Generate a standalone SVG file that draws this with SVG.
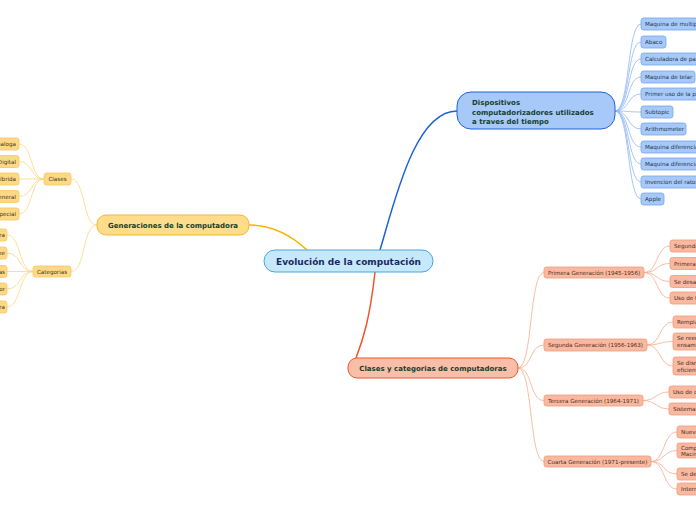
<svg xmlns="http://www.w3.org/2000/svg" width="696" height="520" viewBox="0 0 696 520">
<style>
text{font-family:"DejaVu Sans","Verdana",sans-serif}
.c{fill:none}
.cb{stroke:#8fb8f2;stroke-width:0.8}
.cy{stroke:#fdd67e;stroke-width:0.8}
.cs{stroke:#f9ab8e;stroke-width:0.8}
.bb{fill:#a6c9f8;stroke:#74a4f0;stroke-width:0.8}
.by{fill:#fdd987;stroke:#f8c65a;stroke-width:0.8}
.bs{fill:#f8b9a0;stroke:#f39a7a;stroke-width:0.8}
.tb{font-size:5.6px;fill:#25334d}
.ty{font-size:5.6px;fill:#3d3418}
.ts{font-size:5.6px;fill:#4a2c22}
.main{font-size:7px;font-weight:bold;fill:#17402c}
</style>
<rect width="696" height="520" fill="#ffffff"/>
<g id="connectors">
<path class="c" d="M307,250 C290,234 272,225 249,225" stroke="#f7b500" stroke-width="1.5"/>
<path class="c" d="M380,250 C395,200 415,111 457,111" stroke="#1c62d6" stroke-width="1.5"/>
<path class="c" d="M375,272 C370,318 363,340 356,358" stroke="#f0542a" stroke-width="1.5"/>
<path class="c cb" d="M615,111 C630,111 627,24 641,24"/>
<path class="c cb" d="M615,111 C630,111 627,42 641,42"/>
<path class="c cb" d="M615,111 C630,111 627,59 641,59"/>
<path class="c cb" d="M615,111 C630,111 627,77 641,77"/>
<path class="c cb" d="M615,111 C630,111 627,94 641,94"/>
<path class="c cb" d="M615,111 C630,111 627,112 641,112"/>
<path class="c cb" d="M615,111 C630,111 627,129 641,129"/>
<path class="c cb" d="M615,111 C630,111 627,147 641,147"/>
<path class="c cb" d="M615,111 C630,111 627,164 641,164"/>
<path class="c cb" d="M615,111 C630,111 627,182 641,182"/>
<path class="c cb" d="M615,111 C630,111 627,199 641,199"/>
<path class="c cy" d="M97,225 C82,225 86,179 71,179"/>
<path class="c cy" d="M97,225 C82,225 86,271.5 71,271.5"/>
<path class="c cy" d="M44,179 C30,179 33,144 19,144"/>
<path class="c cy" d="M44,179 C30,179 33,161.5 19,161.5"/>
<path class="c cy" d="M44,179 L19,179"/>
<path class="c cy" d="M44,179 C30,179 33,196.5 19,196.5"/>
<path class="c cy" d="M44,179 C30,179 33,214 19,214"/>
<path class="c cy" d="M33,271.5 C19,271.5 21,235 7,235"/>
<path class="c cy" d="M33,271.5 C19,271.5 21,253 7,253"/>
<path class="c cy" d="M33,271.5 L7,271.5"/>
<path class="c cy" d="M33,271.5 C19,271.5 21,289 7,289"/>
<path class="c cy" d="M33,271.5 C19,271.5 21,307 7,307"/>
<path class="c cs" d="M518,368 C533,368 529,272.5 544,272.5"/>
<path class="c cs" d="M518,368 C533,368 529,345 544,345"/>
<path class="c cs" d="M518,368 C533,368 529,400.5 544,400.5"/>
<path class="c cs" d="M518,368 C533,368 529,461.5 544,461.5"/>
<path class="c cs" d="M644,272.5 C658,272.5 656,246 670,246"/>
<path class="c cs" d="M644,272.5 C658,272.5 656,263.5 670,263.5"/>
<path class="c cs" d="M644,272.5 C658,272.5 656,281.5 670,281.5"/>
<path class="c cs" d="M644,272.5 C658,272.5 656,298 670,298"/>
<path class="c cs" d="M647,345 C661,345 659,322 673,322"/>
<path class="c cs" d="M647,345 C661,345 659,341.5 673,341.5"/>
<path class="c cs" d="M647,345 C661,345 659,366 673,366"/>
<path class="c cs" d="M643,400.5 C656,400.5 656,392 669,392"/>
<path class="c cs" d="M643,400.5 C656,400.5 656,409 669,409"/>
<path class="c cs" d="M651,461.5 C665,461.5 663,432 677,432"/>
<path class="c cs" d="M651,461.5 C665,461.5 663,450.5 677,450.5"/>
<path class="c cs" d="M651,461.5 C665,461.5 663,474 677,474"/>
<path class="c cs" d="M651,461.5 C665,461.5 663,489 677,489"/>
</g>
<g id="root">
<rect x="264" y="250" width="169" height="22" rx="11" fill="#c6e8fb" stroke="#4ea4dc" stroke-width="1"/>
<text x="348.5" y="264.5" text-anchor="middle" font-size="9" font-weight="bold" fill="#1b2a5e">Evolución de la computación</text>
</g>
<g id="generaciones">
<rect x="97" y="215" width="152" height="20" rx="9" fill="#fddc8c" stroke="#f6b72c" stroke-width="1"/>
<text x="173" y="227.5" text-anchor="middle" class="main">Generaciones de la computadora</text>
</g>
<g id="dispositivos">
<rect x="457" y="92" width="158" height="37" rx="14" fill="#a6c9f9" stroke="#1c62d6" stroke-width="1"/>
<text x="472" y="105" class="main">Dispositivos</text>
<text x="472" y="114.5" class="main">computadorizadores utilizados</text>
<text x="472" y="124" class="main">a traves del tiempo</text>
</g>
<g id="clases-categorias">
<rect x="348" y="358" width="170" height="20" rx="9" fill="#f8bea8" stroke="#f0542a" stroke-width="1"/>
<text x="433" y="370.5" text-anchor="middle" class="main">Clases y categorias de computadoras</text>
</g>
<g id="d1"><rect class="bb" x="641" y="18" width="70" height="12" rx="2.5"/><text class="tb" x="645" y="26">Maquina de multiplicar</text></g>
<g id="d2"><rect class="bb" x="641" y="36" width="25" height="12" rx="2.5"/><text class="tb" x="645" y="44">Abaco</text></g>
<g id="d3"><rect class="bb" x="641" y="53" width="70" height="12" rx="2.5"/><text class="tb" x="645" y="61">Calculadora de pascal</text></g>
<g id="d4"><rect class="bb" x="641" y="71" width="54" height="12" rx="2.5"/><text class="tb" x="645" y="79">Maquina de telar</text></g>
<g id="d5"><rect class="bb" x="641" y="88" width="70" height="12" rx="2.5"/><text class="tb" x="645" y="96">Primer uso de la perforadora</text></g>
<g id="d6"><rect class="bb" x="641" y="106" width="32" height="12" rx="2.5"/><text class="tb" x="645" y="114">Subtopic</text></g>
<g id="d7"><rect class="bb" x="641" y="123" width="45" height="12" rx="2.5"/><text class="tb" x="645" y="131">Arithmometer</text></g>
<g id="d8"><rect class="bb" x="641" y="141" width="70" height="12" rx="2.5"/><text class="tb" x="645" y="149">Maquina diferencial</text></g>
<g id="d9"><rect class="bb" x="641" y="158" width="70" height="12" rx="2.5"/><text class="tb" x="645" y="166">Maquina diferencial</text></g>
<g id="d10"><rect class="bb" x="641" y="176" width="70" height="12" rx="2.5"/><text class="tb" x="645" y="184">Invencion del raton</text></g>
<g id="d11"><rect class="bb" x="641" y="193" width="23" height="12" rx="2.5"/><text class="tb" x="645" y="201">Apple</text></g>
<g id="clases"><rect class="by" x="44" y="173" width="27" height="12" rx="2.5"/><text class="ty" x="57.5" y="181" text-anchor="middle">Clases</text></g>
<g id="categorias"><rect class="by" x="33" y="266" width="38" height="11" rx="2.5"/><text class="ty" x="52" y="273.5" text-anchor="middle">Categorias</text></g>
<g id="y1"><rect class="by" x="-30" y="138" width="49" height="12" rx="2.5"/><text class="ty" x="16" y="146" text-anchor="end">Analoga</text></g>
<g id="y2"><rect class="by" x="-30" y="155.5" width="49" height="12" rx="2.5"/><text class="ty" x="16" y="163.5" text-anchor="end">Digital</text></g>
<g id="y3"><rect class="by" x="-30" y="173" width="49" height="12" rx="2.5"/><text class="ty" x="16" y="181" text-anchor="end">Hibrida</text></g>
<g id="y4"><rect class="by" x="-30" y="190.5" width="49" height="12" rx="2.5"/><text class="ty" x="16" y="198.5" text-anchor="end">General</text></g>
<g id="y5"><rect class="by" x="-30" y="208" width="49" height="12" rx="2.5"/><text class="ty" x="16" y="216" text-anchor="end">Especial</text></g>
<g id="y6"><rect class="by" x="-40" y="229" width="47" height="12" rx="2.5"/><text class="ty" x="5" y="237" text-anchor="end">Supercomputadora</text></g>
<g id="y7"><rect class="by" x="-40" y="247" width="47" height="12" rx="2.5"/><text class="ty" x="5" y="255" text-anchor="end">Mainframe</text></g>
<g id="y8"><rect class="by" x="-40" y="265.5" width="47" height="12" rx="2.5"/><text class="ty" x="5" y="273.5" text-anchor="end">Minicomputadoras</text></g>
<g id="y9"><rect class="by" x="-40" y="283" width="47" height="12" rx="2.5"/><text class="ty" x="5" y="291" text-anchor="end">Microcomputador</text></g>
<g id="y10"><rect class="by" x="-40" y="301" width="47" height="12" rx="2.5"/><text class="ty" x="5" y="309" text-anchor="end">Computadora</text></g>
<g id="primera"><rect class="bs" x="544" y="267" width="100" height="11" rx="2.5"/><text class="ts" x="594" y="274.5" text-anchor="middle">Primera Generación (1945-1956)</text></g>
<g id="segunda"><rect class="bs" x="544" y="339" width="103" height="12" rx="2.5"/><text class="ts" x="595.5" y="347" text-anchor="middle">Segunda Generación (1956-1963)</text></g>
<g id="tercera"><rect class="bs" x="544" y="395" width="99" height="11" rx="2.5"/><text class="ts" x="593.5" y="402.5" text-anchor="middle">Tercera Generación (1964-1971)</text></g>
<g id="cuarta"><rect class="bs" x="544" y="456" width="107" height="11" rx="2.5"/><text class="ts" x="597.5" y="463.5" text-anchor="middle">Cuarta Generación (1971-presente)</text></g>
<g id="p1"><rect class="bs" x="670" y="240" width="40" height="12" rx="2.5"/><text class="ts" x="674" y="248">Segunda Guerra</text></g>
<g id="p2"><rect class="bs" x="670" y="257.5" width="40" height="12" rx="2.5"/><text class="ts" x="674" y="265.5">Primeras computadoras</text></g>
<g id="p3"><rect class="bs" x="670" y="275.5" width="40" height="12" rx="2.5"/><text class="ts" x="674" y="283.5">Se desarrolla</text></g>
<g id="p4"><rect class="bs" x="670" y="292" width="40" height="12" rx="2.5"/><text class="ts" x="674" y="300">Uso de tubos</text></g>
<g id="s1"><rect class="bs" x="673" y="316" width="40" height="12" rx="2.5"/><text class="ts" x="677" y="324">Remplazo</text></g>
<g id="s2"><rect class="bs" x="673" y="333" width="40" height="17" rx="2.5"/><text class="ts" x="677" y="340">Se reemplaza</text><text class="ts" x="677" y="347">ensamblaje</text></g>
<g id="s3"><rect class="bs" x="673" y="357" width="40" height="18" rx="2.5"/><text class="ts" x="677" y="364.5">Se disminuye</text><text class="ts" x="677" y="371.5">eficientes</text></g>
<g id="t1"><rect class="bs" x="669" y="386" width="40" height="12" rx="2.5"/><text class="ts" x="673" y="394">Uso de circuitos</text></g>
<g id="t2"><rect class="bs" x="669" y="403" width="40" height="12" rx="2.5"/><text class="ts" x="673" y="411">Sistemas</text></g>
<g id="q1"><rect class="bs" x="677" y="426" width="40" height="12" rx="2.5"/><text class="ts" x="681" y="434">Nuevos</text></g>
<g id="q2"><rect class="bs" x="677" y="443" width="40" height="15" rx="2.5"/><text class="ts" x="681" y="449.5">Computadoras</text><text class="ts" x="681" y="456">Macintosh</text></g>
<g id="q3"><rect class="bs" x="677" y="468" width="40" height="12" rx="2.5"/><text class="ts" x="681" y="476">Se desarrolla</text></g>
<g id="q4"><rect class="bs" x="677" y="483" width="40" height="12" rx="2.5"/><text class="ts" x="681" y="491">Internet</text></g>
</svg>
